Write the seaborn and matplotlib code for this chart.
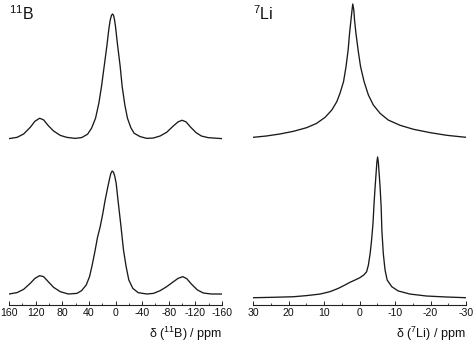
import numpy as np
import pandas as pd
import matplotlib
matplotlib.use("Agg")
import matplotlib.pyplot as plt
import seaborn as sns

# ---------------- data ----------------
# 11B, top trace
b_top_ppm = [160, 148, 138, 128, 121, 114, 108, 101, 93, 83, 73, 61, 51, 42, 36, 30, 25, 21, 17, 13,
             10, 8, 6, 4.5, 3, 1.5, 0, -3, -7, -10, -14, -18, -23, -28, -37, -47, -57, -67, -77, -87,
             -94, -100, -106, -113, -121, -129, -139, -160]
b_top_int = [0.003, 0.013, 0.040, 0.094, 0.142, 0.166, 0.153, 0.107, 0.064, 0.029, 0.013, 0.005, 0.011,
             0.038, 0.086, 0.166, 0.287, 0.421, 0.582, 0.743, 0.880, 0.950, 0.990, 1.000, 0.990, 0.955,
             0.900, 0.756, 0.582, 0.421, 0.273, 0.166, 0.091, 0.046, 0.019, 0.005, 0.008, 0.024, 0.054,
             0.105, 0.137, 0.150, 0.137, 0.094, 0.051, 0.024, 0.011, 0.003]
# 11B, bottom trace
b_bot_ppm = [160, 148, 138, 128, 121, 114, 108, 101, 93, 83, 71, 58, 51, 44, 39, 35, 31, 27, 23, 19,
             16, 12, 9, 7, 5, 3, 1, -1, -4, -8, -12, -16, -20, -26, -34, -47, -57, -67, -77, -87, -94,
             -101, -107, -114, -123, -132, -144, -160]
b_bot_int = [0.000, 0.011, 0.038, 0.087, 0.127, 0.149, 0.141, 0.100, 0.054, 0.019, 0.000, 0.005, 0.027,
             0.073, 0.141, 0.236, 0.344, 0.461, 0.547, 0.656, 0.751, 0.859, 0.935, 0.980, 1.000, 0.990,
             0.955, 0.900, 0.751, 0.561, 0.358, 0.222, 0.114, 0.046, 0.011, 0.000, 0.005, 0.027, 0.060,
             0.100, 0.127, 0.141, 0.125, 0.081, 0.033, 0.008, 0.000, 0.000]
# 7Li, top trace
li_top_ppm = [30.0, 26.2, 22.4, 18.6, 14.9, 12.1, 9.7, 7.8, 6.4, 5.5, 4.5, 3.8, 3.2, 2.8, 2.4, 2.1, 1.9,
              1.6, 1.4, 1.0, 0.4, -0.3, -1.3, -2.5, -3.9, -5.8, -8.1, -11.4, -15.2, -19.9, -24.6, -30.0]
li_top_int = [0.005, 0.015, 0.030, 0.050, 0.077, 0.109, 0.154, 0.209, 0.271, 0.333, 0.420, 0.532, 0.657,
              0.781, 0.881, 0.955, 1.000, 0.955, 0.881, 0.781, 0.657, 0.532, 0.420, 0.321, 0.246, 0.184,
              0.134, 0.095, 0.065, 0.040, 0.020, 0.005]
# 7Li, bottom trace
li_bot_ppm = [30.0, 24.3, 18.6, 14.9, 11.1, 8.3, 6.0, 4.1, 2.7, 1.3, -0.1, -1.2, -2.0, -2.5, -3.0, -3.4,
              -3.8, -4.1, -4.4, -4.7, -4.9, -5.1, -5.3, -5.5, -5.8, -6.1, -6.3, -6.7, -7.2, -7.8, -9.1,
              -10.9, -14.2, -18.9, -24.6, -30.0]
li_bot_int = [0.002, 0.005, 0.009, 0.017, 0.028, 0.045, 0.068, 0.092, 0.111, 0.127, 0.144, 0.163, 0.186,
              0.233, 0.316, 0.410, 0.528, 0.670, 0.788, 0.894, 0.965, 1.000, 0.965, 0.894, 0.788, 0.646,
              0.481, 0.316, 0.198, 0.127, 0.080, 0.050, 0.028, 0.014, 0.007, 0.002]

b_ticks = [160, 120, 80, 40, 0, -40, -80, -120, -160]
li_ticks = [30, 20, 10, 0, -10, -20, -30]
b_xlabel = r"δ ($^{11}$B) / ppm"
li_xlabel = r"δ ($^{7}$Li) / ppm"
b_title = r"$^{11}$B"
li_title = r"$^{7}$Li"

# ---------------- style ----------------
sns.set_theme(style="white")
plt.rcParams["font.family"] = ["Liberation Sans", "DejaVu Sans"]
plt.rcParams["mathtext.fontset"] = "custom"
plt.rcParams["mathtext.rm"] = "Liberation Sans"
plt.rcParams["mathtext.it"] = "Liberation Sans:italic"
plt.rcParams["mathtext.bf"] = "Liberation Sans:bold"
plt.rcParams["mathtext.default"] = "regular"

W, H = 474, 342
fig = plt.figure(figsize=(W / 100, H / 100), dpi=100)
fig.patch.set_facecolor("white")

axL = fig.add_axes([9 / W, 37 / H, 213 / W, 305 / H])
axR = fig.add_axes([253 / W, 37 / H, 213 / W, 305 / H])

line_kw = dict(color="#1a1a1a", linewidth=0.95, sort=False, estimator=None)

def trace(ax, ppm, inten, base, height):
    df = pd.DataFrame({"ppm": ppm, "y": base + height * np.asarray(inten)})
    sns.lineplot(data=df, x="ppm", y="y", ax=ax, **line_kw)

trace(axL, b_top_ppm, b_top_int, 166, 125)
trace(axL, b_bot_ppm, b_bot_int, 11, 123)
trace(axR, li_top_ppm, li_top_int, 167, 134)
trace(axR, li_bot_ppm, li_bot_int, 7, 141)

for ax, lim, ticks, minor_step, xl, title in [
    (axL, (160, -160), b_ticks, 20, b_xlabel, b_title),
    (axR, (30, -30), li_ticks, 5, li_xlabel, li_title),
]:
    ax.set_xlim(*lim)
    ax.set_ylim(0, 305)
    ax.set_facecolor("none")
    for s in ["left", "right", "top"]:
        ax.spines[s].set_visible(False)
    ax.spines["bottom"].set_linewidth(0.8)
    ax.spines["bottom"].set_color("#222222")
    ax.set_yticks([])
    ax.set_ylabel("")
    ax.set_xticks(ticks)
    ax.set_xticklabels([str(t) for t in ticks])
    lo, hi = min(lim), max(lim)
    ax.set_xticks(np.arange(lo, hi + 0.1, minor_step), minor=True)
    ax.tick_params(axis="x", which="major", direction="in", length=2.8, width=0.7,
                   color="#222222", labelsize=7.6, pad=2.3, bottom=True, labelcolor="#111111")
    ax.tick_params(axis="x", which="minor", direction="in", length=1.5, width=0.6,
                   color="#222222", bottom=True)
    ax.set_xlabel(xl, loc="right", fontsize=9, labelpad=5, color="#111111")
    ax.text(0.0, 0.985, title, transform=ax.transAxes, fontsize=11.5, color="#111111",
            ha="left", va="top")

fig.savefig("out.png", dpi=100, facecolor="white")
